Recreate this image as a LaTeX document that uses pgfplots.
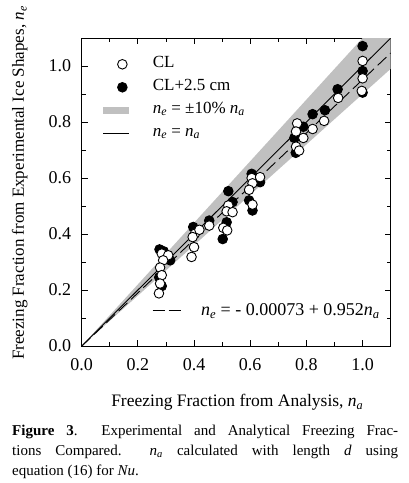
\documentclass[border=0pt]{standalone}
\usepackage{pgfplots}
\pgfplotsset{compat=1.18}
\usepackage{fontspec}
\setmainfont{Liberation Serif}
\definecolor{bandgray}{RGB}{192,192,192}
\newcommand{\nsub}[1]{\textit{n}\textsubscript{\textit{#1}}}
\begin{document}
\begin{tikzpicture}
\begin{axis}[
  scale only axis, width=309pt, height=308pt,
  xmin=0, xmax=1.1, ymin=0, ymax=1.1,
  xtick={0,0.2,0.4,0.6,0.8,1.0}, ytick={0,0.2,0.4,0.6,0.8,1.0},
  minor tick num=1,
  major tick length=6pt, minor tick length=4pt,
  tick align=inside,
  axis line style={line width=0.8pt},
  every tick/.style={black, line width=0.8pt},
  /pgf/number format/assume math mode=true,
  /pgf/number format/fixed, /pgf/number format/fixed zerofill, /pgf/number format/precision=1,
  ticklabel style={font=\fontsize{18}{20}\selectfont},
  xticklabel style={yshift=-9pt},
  yticklabel style={xshift=-7pt},
  legend cell align=left,
  legend image code/.code={\draw[mark repeat=2,mark phase=2,#1] plot coordinates {(0pt,0pt) (19pt,0pt) (26pt,0pt)};},
  legend style={draw=none, fill=none, at={(axis cs:0.064,1.039)}, anchor=north west,
    font=\fontsize{17}{20}\selectfont, inner sep=0pt, column sep=20pt, row sep=5pt,
    nodes={inner sep=0pt, text height=12pt, text depth=6pt}},
]
\addlegendimage{only marks, mark=*, mark size=4.8pt, mark options={fill=white, draw=black, line width=0.9pt}}
\addlegendentry{CL}
\addlegendimage{only marks, mark=*, mark size=4.8pt, mark options={fill=black, draw=black, line width=0.9pt}}
\addlegendentry{CL+2.5 cm}
\addlegendimage{line width=7pt, color=bandgray}
\addlegendentry{\nsub{e} = ±10\% \nsub{a}}
\addlegendimage{line width=0.9pt, black}
\addlegendentry{\nsub{e} = \nsub{a}}

% +-10% band
\addplot[fill=bandgray, draw=none, forget plot] coordinates {(0,0) (1.0,1.1) (1.1,1.21) (1.1,0.99)} -- cycle;
% n_e = n_a
\addplot[black, line width=0.9pt, forget plot] coordinates {(0,0) (1.1,1.1)};
% fit
\addplot[black, line width=0.9pt, dash pattern=on 12pt off 5pt, forget plot] coordinates {(0,-0.00073) (1.1,1.04647)};

% CL+2.5 cm (filled)
\addplot[only marks, mark=*, mark size=4.8pt, mark options={fill=black, draw=black, line width=0.9pt}, forget plot] coordinates {
(0.277,0.345) (0.292,0.338) (0.315,0.306) (0.285,0.214) (0.276,0.245)
(0.397,0.425) (0.454,0.448)
(0.522,0.553) (0.537,0.514) (0.516,0.442) (0.502,0.382)
(0.605,0.615) (0.635,0.585) (0.596,0.520) (0.608,0.484)
(0.789,0.783) (0.757,0.743) (0.762,0.690)
(0.822,0.828) (0.866,0.842) (0.911,0.917)
(1.0,1.071) (1.0,0.982) (1.0,0.905)
};
% CL (open)
\addplot[only marks, mark=*, mark size=4.8pt, mark options={fill=white, draw=black, line width=0.9pt}, forget plot] coordinates {
(0.285,0.330) (0.308,0.324) (0.290,0.306) (0.279,0.280) (0.285,0.253) (0.279,0.223) (0.275,0.188)
(0.403,0.401) (0.395,0.389) (0.400,0.353) (0.391,0.318) (0.419,0.415) (0.454,0.430)
(0.522,0.502) (0.516,0.481) (0.537,0.478) (0.504,0.422) (0.518,0.413)
(0.605,0.600) (0.635,0.603) (0.608,0.581) (0.596,0.558) (0.608,0.505)
(0.767,0.795) (0.763,0.766) (0.789,0.743) (0.763,0.712) (0.774,0.698)
(0.822,0.775) (0.863,0.804) (0.913,0.886)
(1.0,1.018) (1.0,0.956) (0.997,0.911)
};
\end{axis}
\begin{axis}[
  scale only axis, width=309pt, height=308pt,
  xmin=0, xmax=1.1, ymin=0, ymax=1.1, hide axis,
  legend image code/.code={\draw[#1] (0pt,0pt) -- (28pt,0pt);},
  legend style={draw=none, fill=none, at={(axis cs:0.250,0.1264)}, anchor=west,
    font=\fontsize{18}{20}\selectfont, inner sep=0pt, column sep=20pt,
    nodes={inner sep=0pt}},
]
\addlegendimage{black, line width=0.9pt, dash pattern=on 12pt off 4pt}
\addlegendentry{\nsub{e} = - 0.00073 + 0.952\nsub{a}}
\end{axis}
\node[rotate=90, anchor=base, font=\fontsize{17}{20}\selectfont] at (-57.7pt,163pt) {Freezing Fraction from Experimental Ice Shapes, \nsub{e}};
\node[anchor=base, font=\fontsize{17.5}{20}\selectfont] at (155.6pt,-60.7pt) {Freezing Fraction from Analysis, \nsub{a}};
\node[anchor=base west, text width=386pt, inner sep=0pt, align=justify, font=\fontsize{15}{20}\selectfont] at (-69.7pt,-89.5pt)
{\tolerance=10000 \textbf{Figure 3}.\ \ Experimental and Analytical Freezing Frac-\linebreak tions Compared.\ \ \nsub{a} calculated with length \textit{d} using\linebreak equation (16) for \textit{Nu}.};
\pgfresetboundingbox
\useasboundingbox (-81.7pt,-137pt) rectangle (326.3pt,346pt);
\end{tikzpicture}
\end{document}
